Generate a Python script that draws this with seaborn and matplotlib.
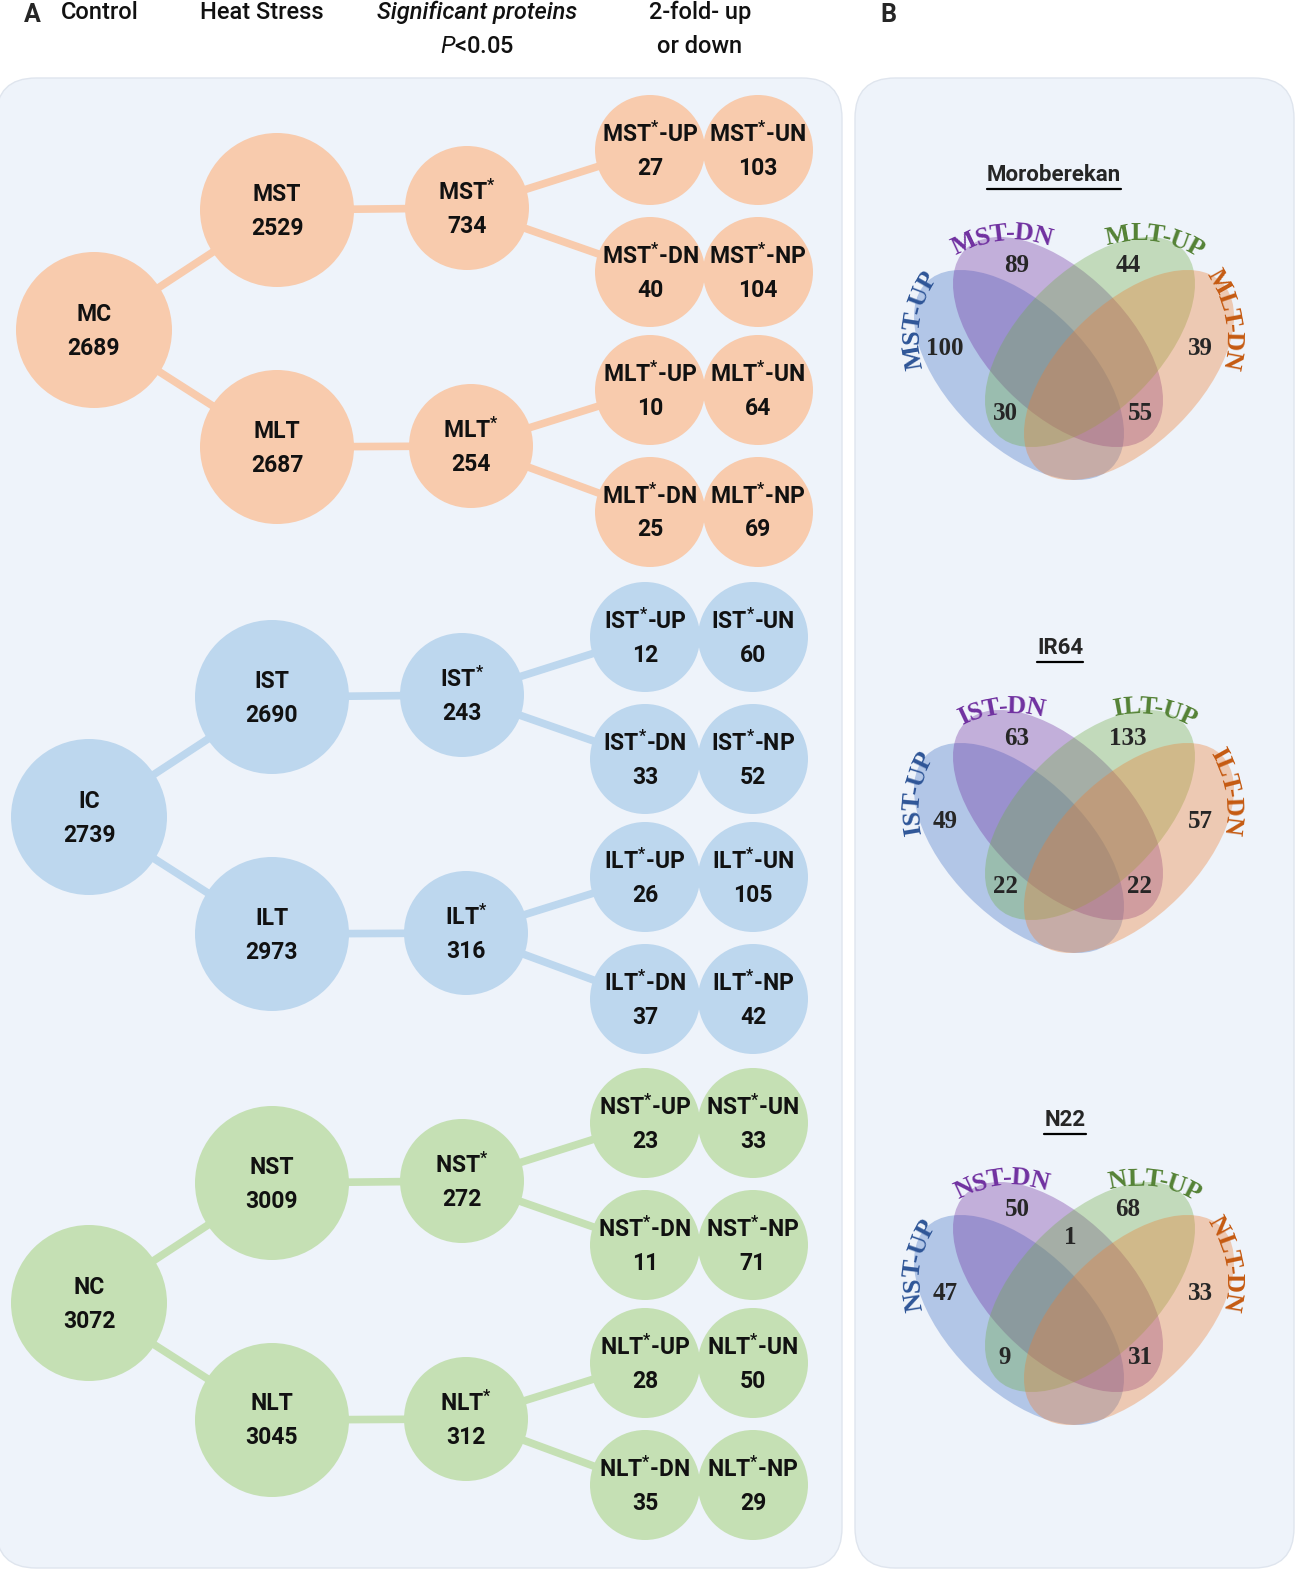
import matplotlib
matplotlib.use("Agg")
import numpy as np
import pandas as pd
import matplotlib.pyplot as plt
import seaborn as sns
from matplotlib.patches import Ellipse, FancyBboxPatch

sns.set_theme(style="white")
plt.rcParams["font.family"] = ["Roboto", "DejaVu Sans"]
plt.rcParams["mathtext.fontset"] = "custom"
plt.rcParams["mathtext.rm"] = "Roboto:bold"
plt.rcParams["mathtext.bf"] = "Roboto:bold"
plt.rcParams["mathtext.it"] = "Roboto:italic"

# ---- data ----
cultivars = ["Moroberekan", "IR64", "N22"]
prefixes = ["M", "I", "N"]
control_counts = [2689, 2739, 3072]
st_counts = [2529, 2690, 3009]
lt_counts = [2687, 2973, 3045]
st_sig_counts = [734, 243, 272]
lt_sig_counts = [254, 316, 312]
fold_classes = ["UP", "UN", "DN", "NP"]
st_fold_counts = [[27, 103, 40, 104], [12, 60, 33, 52], [23, 33, 11, 71]]
lt_fold_counts = [[10, 64, 25, 69], [26, 105, 37, 42], [28, 50, 35, 29]]

venn_sets = ["ST-UP", "ST-DN", "LT-UP", "LT-DN"]
venn_unique = [[100, 89, 44, 39], [49, 63, 133, 57], [47, 50, 68, 33]]
venn_up_up = [30, 22, 9]
venn_dn_dn = [55, 22, 31]
venn_stdn_ltup = ["", "", 1]

# ---- styles / layout ----
W, H = 1298, 1578
group_colors = {"M": "#f8cbad", "I": "#bdd7ee", "N": "#c5e0b4"}
panel_color = "#eef3fa"
venn_fill = ["#4472c4", "#7030a0", "#70ad47", "#ed7d31"]
venn_text = ["#2e5597", "#7030a0", "#548235", "#c55a11"]
group_y = [330, 817, 1303]
group_dx = [0, -5, -5]
fold_dy = {"ST": (-180, -58), "LT": (60, 182)}
fold_x = (650, 758)
venn_title_y = [175, 648, 1120]
venn_title_x = [1054, 1060, 1065]
venn_cx = 1074

fig = plt.figure(figsize=(W / 100, H / 100), dpi=100)
ax = fig.add_axes([0, 0, 1, 1])
ax.set_xlim(0, W)
ax.set_ylim(H, 0)
ax.axis("off")

for x0, x1 in [(-4, 842), (855, 1294)]:
    ax.add_patch(FancyBboxPatch((x0, 78), x1 - x0, 1490,
                                boxstyle="round,pad=0,rounding_size=40",
                                fc=panel_color, ec="#dfe5ee", lw=1, zorder=0))

# ---- panel A nodes ----
rows = []
edges = []
for g, p in enumerate(prefixes):
    y0, dx = group_y[g], group_dx[g]
    rows.append((p, p + "C", control_counts[g], 94 + dx, y0, 78))
    rows.append((p, p + "ST", st_counts[g], 277 + dx, y0 - 120, 77))
    rows.append((p, p + "LT", lt_counts[g], 277 + dx, y0 + 117, 77))
    rows.append((p, p + "ST$^{*}$", st_sig_counts[g], 467 + dx, y0 - 122, 62))
    rows.append((p, p + "LT$^{*}$", lt_sig_counts[g], 471 + dx, y0 + 116, 62))
    edges += [(p, (94 + dx, y0), (277 + dx, y0 - 120)), (p, (94 + dx, y0), (277 + dx, y0 + 117)),
              (p, (277 + dx, y0 - 120), (467 + dx, y0 - 122)), (p, (277 + dx, y0 + 117), (471 + dx, y0 + 116))]
    for stage, counts, src in [("ST", st_fold_counts[g], (467 + dx, y0 - 122)),
                               ("LT", lt_fold_counts[g], (471 + dx, y0 + 116))]:
        for k, cls in enumerate(fold_classes):
            yy = y0 + fold_dy[stage][k // 2]
            xx = fold_x[k % 2] + dx
            rows.append((p, f"{p}{stage}$^{{*}}$-{cls}", counts[k], xx, yy, 55))
            if k % 2 == 0:
                edges.append((p, src, (xx, yy)))

nodes = pd.DataFrame(rows, columns=["group", "label", "count", "x", "y", "r"])
nodes["s"] = (1.44 * nodes["r"]) ** 2

for p, (xa, ya), (xb, yb) in edges:
    ax.plot([xa, xb], [ya, yb], color=group_colors[p], lw=5.5, solid_capstyle="butt", zorder=1)

sns.scatterplot(data=nodes, x="x", y="y", hue="group", size="s", sizes=(nodes["s"].min(), nodes["s"].max()),
                palette=group_colors, linewidth=0, legend=False, ax=ax, zorder=3)
ax.set_xlim(0, W)
ax.set_ylim(H, 0)
ax.set_xlabel("")
ax.set_ylabel("")

for _, n in nodes.iterrows():
    ax.text(n.x, n.y - 16, n.label, ha="center", va="center", fontsize=16.5, fontweight="bold",
            color="#111111", zorder=4)
    ax.text(n.x, n.y + 18, str(n["count"]), ha="center", va="center", fontsize=16.5, fontweight="bold",
            color="#111111", zorder=4)

# ---- headers ----
hdr = dict(ha="center", va="center", fontsize=17, fontweight="medium", color="#111111")
ax.text(32, 15, "A", ha="center", va="center", fontsize=18, fontweight="bold")
ax.text(888, 15, "B", ha="center", va="center", fontsize=18, fontweight="bold")
ax.text(100, 12, "Control", **hdr)
ax.text(262, 12, "Heat Stress", **hdr)
ax.text(477, 12, "Significant proteins", style="italic", **hdr)
ax.text(477, 46, "$P$<0.05", **hdr)
ax.text(700, 12, "2-fold- up", **hdr)
ax.text(700, 46, "or down", **hdr)

# ---- panel B venns ----
renderer = fig.canvas.get_renderer()
serif = ["Liberation Serif", "DejaVu Serif"]


def text_width(s, size):
    t = ax.text(0, 0, s, fontsize=size, fontweight="bold", family=serif)
    w = t.get_window_extent(renderer).width
    t.remove()
    return w


def arc_text(s, mid, normal_deg, radius, color, size=19):
    widths = [text_width(s[:i], size) if i else 0.0 for i in range(len(s) + 1)]
    total = widths[-1]
    phi0 = np.deg2rad(normal_deg)
    cu = mid[0] - radius * np.cos(phi0)
    cv = -mid[1] - radius * np.sin(phi0)
    for i, ch in enumerate(s):
        sc = (widths[i] + widths[i + 1]) / 2 - total / 2
        phi = phi0 - sc / radius
        u = cu + radius * np.cos(phi)
        v = cv + radius * np.sin(phi)
        ax.text(u, -v, ch, rotation=np.rad2deg(phi) - 90, rotation_mode="anchor", ha="center", va="center",
                fontsize=size, fontweight="bold", family=serif, color=color, zorder=6)


ell_offsets = [(-55, 15, 45), (-16, -18, 45), (16, -18, -45), (55, 15, -45)]
label_pos = [((914, 320), 171), ((1001, 234), 96), ((1155, 235), 82), ((1231, 318), 10)]
num_offsets = [(-129, -12), (-57, -95), (54, -95), (126, -12)]

for g, name in enumerate(cultivars):
    ty = venn_title_y[g]
    cy = ty + 185
    t = ax.text(venn_title_x[g], ty, name, ha="center", va="center", fontsize=16, fontweight="bold")
    bb = t.get_window_extent(renderer)
    ax.plot([bb.x0, bb.x1], [ty + 14, ty + 14], color="black", lw=1.6)
    for k in range(4):
        ox, oy, ang = ell_offsets[k]
        ax.add_patch(Ellipse((venn_cx + ox, cy + oy), 262, 140, angle=ang,
                             fc=venn_fill[k], alpha=0.35, ec="none", zorder=2))
        (lx, ly), nd = label_pos[k]
        arc_text(prefixes[g] + venn_sets[k], (lx, ly + ty - 175), nd, 115, venn_text[k])
        nx, ny = num_offsets[k]
        ax.text(venn_cx + nx, cy + ny, str(venn_unique[g][k]), ha="center", va="center",
                fontsize=18, fontweight="bold", family=serif, zorder=6)
    ax.text(venn_cx - 69, cy + 53, str(venn_up_up[g]), ha="center", va="center",
            fontsize=18, fontweight="bold", family=serif, zorder=6)
    ax.text(venn_cx + 66, cy + 53, str(venn_dn_dn[g]), ha="center", va="center",
            fontsize=18, fontweight="bold", family=serif, zorder=6)
    ax.text(venn_cx - 4, cy - 68, str(venn_stdn_ltup[g]), ha="center", va="center",
            fontsize=18, fontweight="bold", family=serif, zorder=6)

fig.savefig("out.png", dpi=100)
